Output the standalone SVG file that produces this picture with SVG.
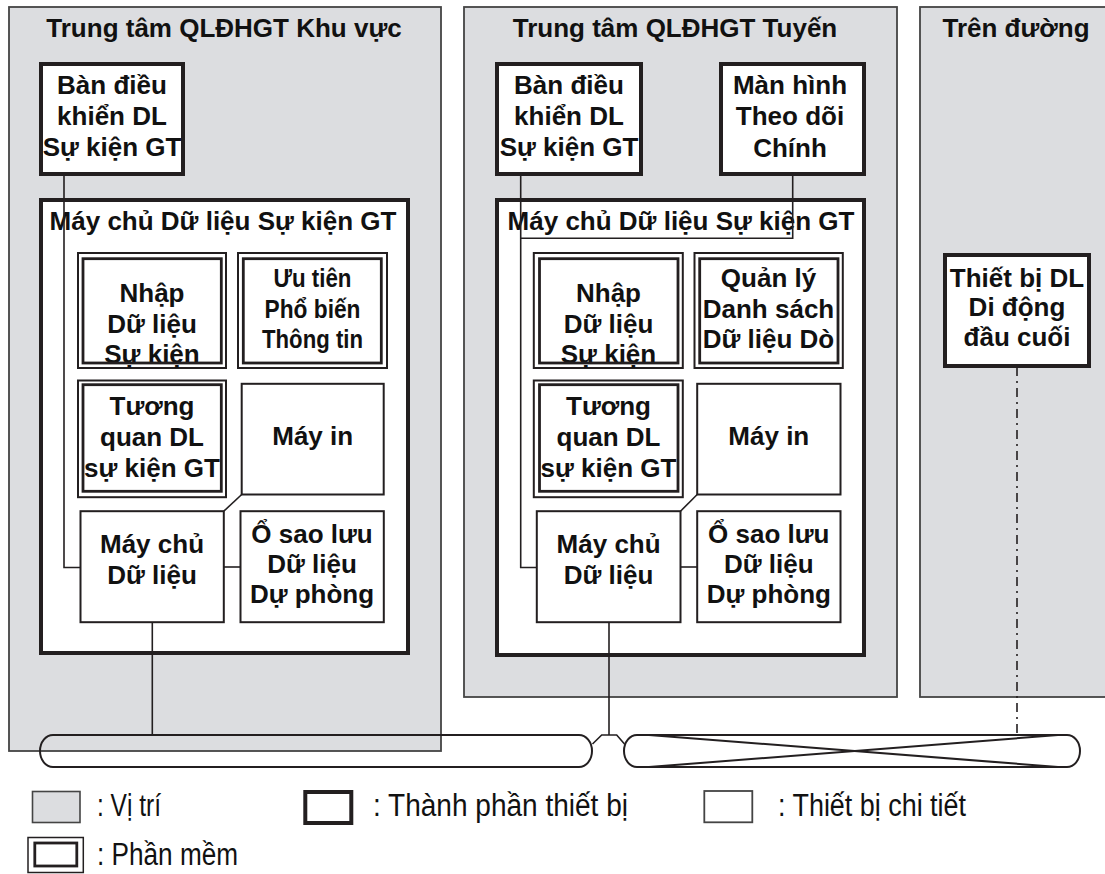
<svg xmlns="http://www.w3.org/2000/svg" width="1105" height="874" viewBox="0 0 1105 874">
<style>
.region{fill:#dcdde0;stroke:#444;stroke-width:1.8}
.equip{fill:#fff;stroke:#231f20;stroke-width:4}
.detail{fill:#fff;stroke:#231f20;stroke-width:2}
.swo{fill:#fff;stroke:#231f20;stroke-width:2}
.swi{fill:none;stroke:#231f20;stroke-width:2.8}
.t{font-family:"Liberation Sans",Arial,sans-serif;font-weight:bold;font-size:26px;text-anchor:middle;fill:#111}
.lg{font-family:"Liberation Sans",Arial,sans-serif;font-size:31px;fill:#111}
.conn{fill:none;stroke:#231f20;stroke-width:1.6}
.bus{fill:none;stroke:#231f20;stroke-width:2}
.dd{fill:none;stroke:#231f20;stroke-width:1.6;stroke-dasharray:9 5 2 5}
</style>

<!-- Regions -->
<g id="region-khuvuc">
<rect class="region" x="9" y="7" width="432" height="744"/>
<text class="t" x="224" y="37">Trung tâm QLĐHGT Khu vực</text>
</g>
<g id="region-tuyen">
<rect class="region" x="464" y="7" width="433" height="690"/>
<text class="t" x="675" y="37">Trung tâm QLĐHGT Tuyến</text>
</g>
<g id="region-duong">
<rect class="region" x="920" y="7" width="200" height="690"/>
<text class="t" x="1016" y="37">Trên đường</text>
</g>

<!-- Left center -->
<g id="kv-console">
<rect class="equip" x="41" y="64" width="142" height="110"/>
<text class="t" x="112" y="94">Bàn điều</text>
<text class="t" x="112" y="125">khiển DL</text>
<text class="t" x="112" y="156">Sự kiện GT</text>
</g>
<g id="kv-server">
<rect class="equip" x="41" y="200" width="367" height="453"/>
<text class="t" x="223" y="230">Máy chủ Dữ liệu Sự kiện GT</text>
</g>
<g id="kv-nhap">
<rect class="swo" x="78" y="253" width="148" height="115"/>
<text class="t" x="152" y="301.5">Nhập</text>
<text class="t" x="152" y="332.5">Dữ liệu</text>
<text class="t" x="152" y="363">Sự kiện</text>
<rect class="swi" x="83" y="258.7" width="138.3" height="104.3"/>
</g>
<g id="kv-uutien">
<rect class="swo" x="238" y="253" width="149" height="115"/>
<text class="t" x="312.5" y="286.5" textLength="78" lengthAdjust="spacingAndGlyphs">Ưu tiên</text>
<text class="t" x="312.5" y="318" textLength="96" lengthAdjust="spacingAndGlyphs">Phổ biến</text>
<text class="t" x="312.5" y="348" textLength="101" lengthAdjust="spacingAndGlyphs">Thông tin</text>
<rect class="swi" x="243.3" y="258.7" width="138" height="104.3"/>
</g>
<g id="kv-tuongquan">
<rect class="swo" x="78" y="380.5" width="148" height="116.7"/>
<text class="t" x="152" y="415">Tương</text>
<text class="t" x="152" y="445.5">quan DL</text>
<text class="t" x="152" y="476.5">sự kiện GT</text>
<rect class="swi" x="83" y="384.7" width="138.3" height="106.6"/>
</g>
<g id="kv-mayin">
<rect class="detail" x="241.7" y="383.8" width="142" height="110.7"/>
<text class="t" x="312.7" y="445">Máy in</text>
</g>
<g id="kv-maychu">
<rect class="detail" x="80.5" y="511.2" width="143.3" height="111"/>
<text class="t" x="152" y="553">Máy chủ</text>
<text class="t" x="152" y="584">Dữ liệu</text>
</g>
<g id="kv-saoluu">
<rect class="detail" x="240.5" y="511.2" width="143.3" height="111"/>
<text class="t" x="312" y="543">Ổ sao lưu</text>
<text class="t" x="312" y="573">Dữ liệu</text>
<text class="t" x="312" y="603">Dự phòng</text>
</g>

<!-- Middle center -->
<g id="tu-console">
<rect class="equip" x="497" y="64" width="144" height="110"/>
<text class="t" x="569" y="94">Bàn điều</text>
<text class="t" x="569" y="125">khiển DL</text>
<text class="t" x="569" y="156">Sự kiện GT</text>
</g>
<g id="tu-manhinh">
<rect class="equip" x="721" y="64" width="143" height="110"/>
<text class="t" x="790" y="94">Màn hình</text>
<text class="t" x="790" y="125">Theo dõi</text>
<text class="t" x="790" y="156.5">Chính</text>
</g>
<g id="tu-server">
<rect class="equip" x="497" y="200" width="367" height="455"/>
<text class="t" x="681" y="230">Máy chủ Dữ liệu Sự kiện GT</text>
</g>
<g id="tu-nhap">
<rect class="swo" x="533.8" y="253" width="149" height="115"/>
<text class="t" x="608.5" y="301.5">Nhập</text>
<text class="t" x="608.5" y="332.5">Dữ liệu</text>
<text class="t" x="608.5" y="363">Sự kiện</text>
<rect class="swi" x="539.5" y="258.7" width="138.5" height="104.3"/>
</g>
<g id="tu-quanly">
<rect class="swo" x="694.5" y="253" width="148.3" height="115"/>
<text class="t" x="768.5" y="286.5">Quản lý</text>
<text class="t" x="768.5" y="318">Danh sách</text>
<text class="t" x="768.5" y="348">Dữ liệu Dò</text>
<rect class="swi" x="699.7" y="258.7" width="138.3" height="104.3"/>
</g>
<g id="tu-tuongquan">
<rect class="swo" x="533.8" y="380.5" width="149" height="116.7"/>
<text class="t" x="608.5" y="415">Tương</text>
<text class="t" x="608.5" y="445.5">quan DL</text>
<text class="t" x="608.5" y="476.5">sự kiện GT</text>
<rect class="swi" x="539.5" y="384.7" width="138.5" height="106.6"/>
</g>
<g id="tu-mayin">
<rect class="detail" x="697.2" y="383.8" width="143.3" height="110.7"/>
<text class="t" x="768.8" y="445">Máy in</text>
</g>
<g id="tu-maychu">
<rect class="detail" x="536.8" y="511.2" width="143.7" height="111"/>
<text class="t" x="608.6" y="553">Máy chủ</text>
<text class="t" x="608.6" y="584">Dữ liệu</text>
</g>
<g id="tu-saoluu">
<rect class="detail" x="697.2" y="511.2" width="143.3" height="111"/>
<text class="t" x="768.8" y="543">Ổ sao lưu</text>
<text class="t" x="768.8" y="573">Dữ liệu</text>
<text class="t" x="768.8" y="603">Dự phòng</text>
</g>

<!-- Road -->
<g id="dd-thietbi">
<rect class="equip" x="945" y="255" width="144" height="111"/>
<text class="t" x="1017" y="286.5">Thiết bị DL</text>
<text class="t" x="1017" y="316">Di động</text>
<text class="t" x="1017" y="346">đầu cuối</text>
</g>

<!-- Network bus -->
<g id="network">
<rect class="bus" x="40" y="735" width="552" height="32" rx="13" ry="16"/>
<rect class="bus" x="624" y="735" width="456" height="32" rx="13" ry="16"/>
<line class="bus" x1="649" y1="735" x2="1058" y2="767"/>
<line class="bus" x1="649" y1="767" x2="1058" y2="735"/>
</g>

<!-- Connectors -->
<g id="connectors">
<polyline class="conn" points="64,176 64,567.5 80.5,567.5"/>
<line class="conn" x1="223.8" y1="511.2" x2="241.7" y2="494.5"/>
<line class="conn" x1="223.8" y1="567" x2="240.5" y2="567"/>
<line class="conn" x1="152.3" y1="622.2" x2="152.3" y2="735"/>

<polyline class="conn" points="520.7,176 520.7,567.5 536.8,567.5"/>
<polyline class="conn" points="792.7,176 792.7,238.3 520.7,238.3"/>
<line class="conn" x1="680.5" y1="511.2" x2="697.2" y2="494.5"/>
<line class="conn" x1="680.5" y1="567" x2="697.2" y2="567"/>
<line class="conn" x1="609" y1="622.2" x2="609" y2="735"/>
<polyline class="conn" points="592.5,744 601.7,735 616.7,735 624.5,744"/>

<line class="dd" x1="1017" y1="367" x2="1017" y2="735"/>
</g>

<!-- Legend -->
<g id="legend">
<rect x="32.5" y="791.5" width="47.5" height="31" fill="#dcdde0" stroke="#444" stroke-width="1.6"/>
<text class="lg" x="97" y="816" textLength="64" lengthAdjust="spacingAndGlyphs">: Vị trí</text>
<rect x="305.3" y="792" width="46" height="31" fill="#fff" stroke="#231f20" stroke-width="4"/>
<text class="lg" x="373" y="816" textLength="255" lengthAdjust="spacingAndGlyphs">: Thành phần thiết bị</text>
<rect x="704.3" y="791" width="48" height="31.3" fill="#fff" stroke="#444" stroke-width="1.8"/>
<text class="lg" x="778" y="816" textLength="188" lengthAdjust="spacingAndGlyphs">: Thiết bị chi tiết</text>
<rect x="28" y="837.5" width="55.3" height="35" fill="#fff" stroke="#231f20" stroke-width="1.5"/>
<rect x="34.8" y="843" width="42" height="23" fill="none" stroke="#231f20" stroke-width="2.8"/>
<text class="lg" x="97" y="865" textLength="141" lengthAdjust="spacingAndGlyphs">: Phần mềm</text>
</g>
</svg>
